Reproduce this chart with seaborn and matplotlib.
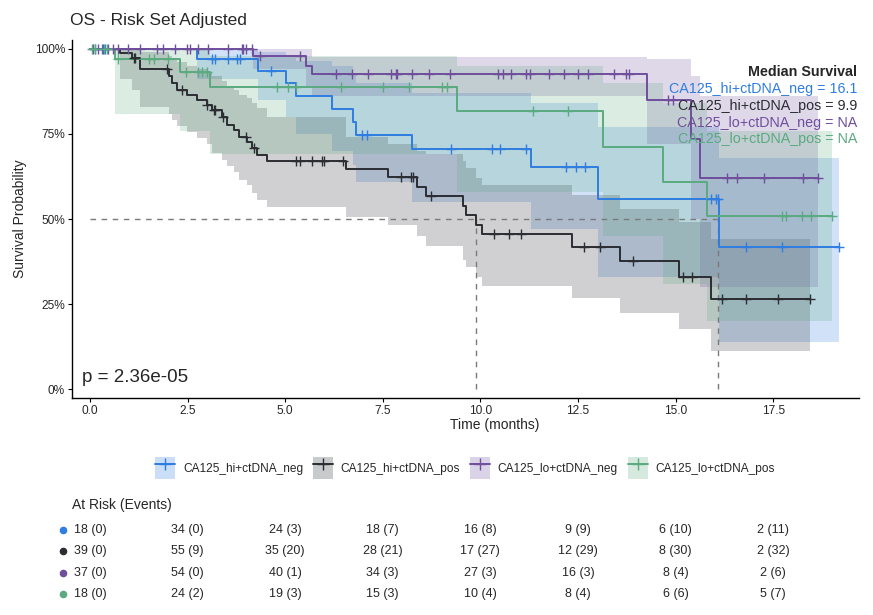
import numpy as np
import matplotlib
matplotlib.use("Agg")
import matplotlib.pyplot as plt
from matplotlib.lines import Line2D
from matplotlib.patches import Patch
import seaborn as sns

# groups
groups = ["CA125_hi+ctDNA_neg", "CA125_hi+ctDNA_pos", "CA125_lo+ctDNA_neg", "CA125_lo+ctDNA_pos"]
colors = ["#2f7de1", "#2b2d33", "#6f4e9c", "#5baa80"]

# step curves (time of each drop, survival after it, CI)
blue_time = [0, 2.73, 4.31, 5.01, 5.29, 6.21, 6.75, 6.82, 8.26, 11.31, 13.02, 16.11]
blue_surv = [1.0, 0.971, 0.935, 0.899, 0.86, 0.823, 0.786, 0.747, 0.706, 0.653, 0.559, 0.419]
blue_lower = [1.0, 0.91, 0.85, 0.80, 0.75, 0.70, 0.66, 0.61, 0.55, 0.47, 0.33, 0.14]
blue_upper = [1.0, 1.0, 0.99, 0.98, 0.965, 0.95, 0.93, 0.90, 0.87, 0.84, 0.77, 0.68]
blue_cens = [0.14, 0.31, 0.39, 3.12, 3.2, 3.54, 3.76, 3.84, 4.65, 6.96, 7.09, 9.25, 10.29,
             10.5, 11.17, 12.19, 12.45, 12.68, 15.91, 16.03, 16.08, 16.8, 17.73, 19.18]

black_time = [0, 0.78, 1.08, 1.29, 2.02, 2.10, 2.23, 2.48, 2.74, 3.0, 3.13, 3.38, 3.51, 3.68,
              3.81, 4.02, 4.15, 4.28, 4.53, 6.57, 7.64, 8.38, 8.6, 9.56, 9.63, 9.9, 10.03,
              12.34, 13.59, 15.1, 15.9]
black_surv = [1.0, 0.987, 0.972, 0.94, 0.919, 0.899, 0.879, 0.865, 0.85, 0.835, 0.819, 0.801,
              0.776, 0.762, 0.742, 0.727, 0.708, 0.688, 0.671, 0.646, 0.624, 0.595, 0.569,
              0.539, 0.512, 0.482, 0.455, 0.419, 0.376, 0.33, 0.264]
black_lower = [1.0, 0.91, 0.88, 0.83, 0.81, 0.79, 0.772, 0.757, 0.737, 0.72, 0.693, 0.674,
               0.656, 0.639, 0.615, 0.60, 0.575, 0.555, 0.536, 0.507, 0.482, 0.451, 0.421,
               0.38, 0.36, 0.33, 0.303, 0.269, 0.224, 0.176, 0.113]
black_upper = [1.0, 1.0, 1.0, 0.99, 0.98, 0.97, 0.96, 0.95, 0.94, 0.93, 0.92, 0.905, 0.89,
               0.88, 0.865, 0.855, 0.84, 0.825, 0.80, 0.74, 0.72, 0.70, 0.69, 0.67, 0.65,
               0.62, 0.60, 0.57, 0.53, 0.49, 0.44]
black_cens = [1.12, 1.15, 1.98, 2.36, 3.0, 3.17, 3.2, 3.41, 4.01, 4.19, 5.29, 5.38, 5.7, 5.95,
              6.0, 6.47, 7.97, 8.22, 8.27, 8.73, 10.36, 10.73, 11.03, 12.66, 13.06, 13.92,
              15.2, 15.43, 16.18, 16.8, 17.63, 18.44]

purple_time = [0, 4.18, 5.53, 5.69, 14.28, 15.39, 15.62]
purple_surv = [1.0, 0.978, 0.951, 0.927, 0.849, 0.735, 0.62]
purple_lower = [1.0, 0.94, 0.89, 0.86, 0.72, 0.50, 0.30]
purple_upper = [1.0, 1.0, 1.0, 0.977, 0.97, 0.92, 0.86]
purple_cens = [0.09, 0.21, 0.34, 0.47, 0.6, 0.72, 0.98, 1.28, 1.71, 1.87, 2.18, 2.48, 2.56,
               2.77, 3.03, 3.54, 3.89, 3.93, 4.01, 4.14, 4.35, 5.38, 6.29, 6.72, 7.11, 7.71,
               7.84, 7.87, 8.26, 8.69, 9.22, 10.46, 10.59, 10.78, 11.17, 11.27, 11.76, 12.15,
               12.51, 12.76, 13.43, 13.73, 13.81, 14.81, 14.94, 16.32, 16.58, 17.27, 18.27,
               18.66]

green_time = [0, 0.64, 2.31, 3.07, 9.39, 13.13, 14.69, 15.8]
green_surv = [1.0, 0.971, 0.933, 0.889, 0.816, 0.713, 0.61, 0.51]
green_lower = [1.0, 0.81, 0.76, 0.69, 0.58, 0.45, 0.31, 0.20]
green_upper = [1.0, 1.0, 1.0, 0.98, 0.95, 0.90, 0.84, 0.76]
green_cens = [0.05, 0.14, 0.35, 0.44, 0.72, 1.5, 1.63, 2.0, 2.46, 2.77, 2.86, 2.99, 4.78,
              5.08, 5.28, 6.42, 7.5, 8.18, 9.03, 9.15, 11.36, 12.24, 17.74, 17.84, 18.23,
              18.47, 19.02]

medians = ["16.1", "9.9", "NA", "NA"]
median_times = [16.1, 9.9]
p_value = "p = 2.36e-05"

# at risk table
risk_times = [0, 2.5, 5, 7.5, 10, 12.5, 15, 17.5]
blue_risk = [18, 34, 24, 18, 16, 9, 6, 2]
blue_events = [0, 0, 3, 7, 8, 9, 10, 11]
black_risk = [39, 55, 35, 28, 17, 12, 8, 2]
black_events = [0, 9, 20, 21, 27, 29, 30, 32]
purple_risk = [37, 54, 40, 34, 27, 16, 8, 2]
purple_events = [0, 0, 1, 3, 3, 3, 4, 6]
green_risk = [18, 24, 19, 15, 10, 8, 6, 5]
green_events = [0, 2, 3, 3, 4, 4, 6, 7]

curves = [
    (blue_time, blue_surv, blue_lower, blue_upper, blue_cens),
    (black_time, black_surv, black_lower, black_upper, black_cens),
    (purple_time, purple_surv, purple_lower, purple_upper, purple_cens),
    (green_time, green_surv, green_lower, green_upper, green_cens),
]
risk = [(blue_risk, blue_events), (black_risk, black_events),
        (purple_risk, purple_events), (green_risk, green_events)]

sns.set_style("ticks")
plt.rcParams["font.family"] = ["Liberation Sans", "DejaVu Sans"]

W, H = 873, 615
fig = plt.figure(figsize=(W / 100, H / 100), dpi=100)

ax_l, ax_r, ax_t, ax_b = 72, 859, 40, 398
ax = fig.add_axes([ax_l / W, 1 - ax_b / H, (ax_r - ax_l) / W, (ax_b - ax_t) / H])

for (t, s, lo, up, cens), c in zip(curves, colors):
    end = max(cens)
    t_ext = np.append(t, end)
    lo_ext = np.append(lo, lo[-1])
    up_ext = np.append(up, up[-1])
    ax.fill_between(t_ext, lo_ext, up_ext, step="post", color=c, alpha=0.22,
                    linewidth=0, zorder=1)

ax.plot([0, median_times[0]], [0.5, 0.5], color="#7a7a7a", lw=1.0, ls=(0, (4, 4)), zorder=2)
for m in median_times:
    ax.plot([m, m], [0, 0.5], color="#7a7a7a", lw=1.0, ls=(0, (4, 4)), zorder=2)

for (t, s, lo, up, cens), c in zip(curves, colors):
    end = max(cens)
    t_ext = np.append(t, end)
    s_ext = np.append(s, s[-1])
    sns.lineplot(x=t_ext, y=s_ext, drawstyle="steps-post", color=c, linewidth=1.4,
                 estimator=None, ax=ax, zorder=3)
    idx = np.searchsorted(t, cens, side="right") - 1
    cens_s = np.asarray(s)[idx]
    sns.scatterplot(x=cens, y=cens_s, marker="+", s=50, color=c, linewidth=1.0,
                    ax=ax, zorder=4)

ax.set_xlim(-0.46, 19.7)
ax.set_ylim(-0.026, 1.026)
ax.set_xticks(risk_times)
ax.set_xticklabels([f"{v:.1f}" for v in risk_times], fontsize=8.6)
ax.set_yticks([0, 0.25, 0.5, 0.75, 1.0])
ax.set_yticklabels(["0%", "25%", "50%", "75%", "100%"], fontsize=8.6)
ax.tick_params(length=3, width=0.8, color="black", pad=2)
for sp in ["left", "bottom"]:
    ax.spines[sp].set_linewidth(1.0)
    ax.spines[sp].set_color("black")
sns.despine(ax=ax)
ax.set_xlabel("Time (months)", fontsize=10)
ax.set_ylabel("Survival Probability", fontsize=10)
ax.xaxis.set_label_coords((495 - ax_l) / (ax_r - ax_l), -0.055)
ax.yaxis.set_label_coords((27 - ax_l) / (ax_r - ax_l), 0.5)
ax.grid(False)

ax.text((82 - ax_l) / (ax_r - ax_l), (ax_b - 378) / (ax_b - ax_t), p_value,
        transform=ax.transAxes, fontsize=13.5, va="center", ha="left")

tx = (857 - ax_l) / (ax_r - ax_l)
ax.text(tx, (ax_b - 72) / (ax_b - ax_t), "Median Survival", transform=ax.transAxes,
        fontsize=10.3, fontweight="bold", ha="right", va="center")
for i, (g, m, c) in enumerate(zip(groups, medians, colors)):
    ypx = 89.3 + i * 16.7
    ax.text(tx, (ax_b - ypx) / (ax_b - ax_t), f"{g} = {m}", transform=ax.transAxes,
            fontsize=10.3, color=c, ha="right", va="center", zorder=6)

fig.text(70 / W, 1 - 20 / H, "OS - Risk Set Adjusted", fontsize=12.5, ha="left", va="center")

handles = [(Patch(facecolor=c, alpha=0.25, linewidth=0),
            Line2D([], [], color=c, marker="+", markersize=9, lw=1.4)) for c in colors]
fig.legend(handles, groups, loc="center", bbox_to_anchor=(465 / W, 1 - 468 / H), ncol=4,
           frameon=False, fontsize=8.6, handlelength=1.7, handleheight=2.4,
           handletextpad=0.65, columnspacing=0.8)

# risk table
fig.text(72 / W, 1 - 505 / H, "At Risk (Events)", fontsize=10, ha="left", va="center")
tab_top, tab_bot = 519.3, 604.7
ax_tab = fig.add_axes([ax_l / W, 1 - tab_bot / H, (ax_r - ax_l) / W, (tab_bot - tab_top) / H])
ax_tab.set_xlim(ax.get_xlim())
ax_tab.set_ylim(0, 4)
ax_tab.axis("off")
for i, ((n, e), c) in enumerate(zip(risk, colors)):
    row_y = 3.5 - i
    ax_tab.scatter([-0.69], [row_y], s=20, color=c, clip_on=False)
    for tt, nn, ee in zip(risk_times, n, e):
        ax_tab.text(tt, row_y, f"{nn} ({ee})", fontsize=9, ha="center", va="center")

fig.savefig("out.png", dpi=100)
